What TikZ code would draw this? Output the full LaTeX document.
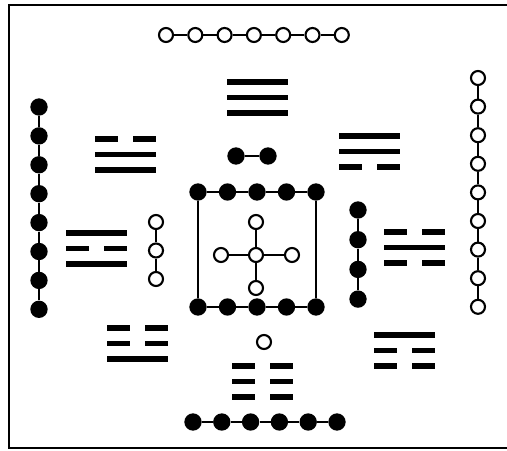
\documentclass[tikz,border=0pt]{standalone}
\usepackage{tikz}
\tikzset{
  yangpt/.style={circle,draw,line width=1.8pt,fill=white,inner sep=0pt,minimum size=0.42cm},
  yinpt/.style={circle,fill=black,inner sep=0pt,minimum size=0.52cm},
  link/.style={line width=1.3pt},
  bar/.style={line width=4.3pt},
  frame/.style={line width=1.7pt},
}

\begin{document}
\begin{tikzpicture}[x=0.03cm,y=-0.03cm]
  \useasboundingbox (0,0) rectangle (507,450);
  \draw[frame] (507,5) -- (9,5) -- (9,448) -- (507,448);

  % the eight trigrams: left x / top y / lines from top to bottom
  \foreach \gx/\gy/\ga/\gb/\gc in {227/82/1/1/1, 95/139/0/1/1, 339/136/1/1/0,
      66/233/1/0/1, 384/232/0/1/0, 107/328/0/0/1, 232/366/0/0/0, 374/335/1/0/0}{
    \foreach \k/\v in {0/\ga,1/\gb,2/\gc}{
      \ifnum\v=1
        \draw[bar] (\gx,\gy+15.5*\k) -- +(61,0);
      \else
        \draw[bar] (\gx,\gy+15.5*\k) -- +(23,0) (\gx+38,\gy+15.5*\k) -- +(23,0);
      \fi
    }
  }

  % outer numbers
  \foreach \i in {1,...,7}
    \node[yangpt] (sev\i) at ({166+29.3*(\i-1)},35) {};
  \foreach \i [count=\j from 2] in {1,...,6}
    \draw[link] (sev\i) -- (sev\j);
  \foreach \i in {1,...,6}
    \node[yinpt] (six\i) at ({193+28.8*(\i-1)},422) {};
  \foreach \i [count=\j from 2] in {1,...,5}
    \draw[link] (six\i) -- (six\j);
  \foreach \i in {1,...,8}
    \node[yinpt] (eig\i) at (39,{107+28.9*(\i-1)}) {};
  \foreach \i [count=\j from 2] in {1,...,7}
    \draw[link] (eig\i) -- (eig\j);
  \foreach \i in {1,...,9}
    \node[yangpt] (nin\i) at (478,{78+28.6*(\i-1)}) {};
  \foreach \i [count=\j from 2] in {1,...,8}
    \draw[link] (nin\i) -- (nin\j);

  % inner numbers
  \foreach \i in {1,...,3}
    \node[yangpt] (thr\i) at (156,{222+28.5*(\i-1)}) {};
  \foreach \i [count=\j from 2] in {1,...,2}
    \draw[link] (thr\i) -- (thr\j);
  \foreach \i in {1,...,4}
    \node[yinpt] (fou\i) at (358,{210+29.7*(\i-1)}) {};
  \foreach \i [count=\j from 2] in {1,...,3}
    \draw[link] (fou\i) -- (fou\j);
  \node[yinpt] (two1) at (236,156) {};
  \node[yinpt] (two2) at (268,156) {};
  \draw[link] (two1) -- (two2);
  \node[yangpt] (one) at (264,342) {};

  % centre: ten round five
  \foreach \i in {1,...,5}{
    \node[yinpt] (ten\i) at ({198+29.5*(\i-1)},192) {};
    \node[yinpt] (teb\i) at ({198+29.5*(\i-1)},307) {};
  }
  \foreach \i [count=\j from 2] in {1,...,4}
    \draw[link] (ten\i) -- (ten\j) (teb\i) -- (teb\j);
  \draw[link] (ten1) -- (teb1) (ten5) -- (teb5);
  \node[yangpt] (fivc) at (256,255) {};
  \node[yangpt] (fivn) at (256,222) {};
  \node[yangpt] (fivs) at (256,288) {};
  \node[yangpt] (fivw) at (221,255) {};
  \node[yangpt] (five) at (292,255) {};
  \foreach \p in {fivn,fivs,fivw,five}
    \draw[link] (fivc) -- (\p);
\end{tikzpicture}
\end{document}
